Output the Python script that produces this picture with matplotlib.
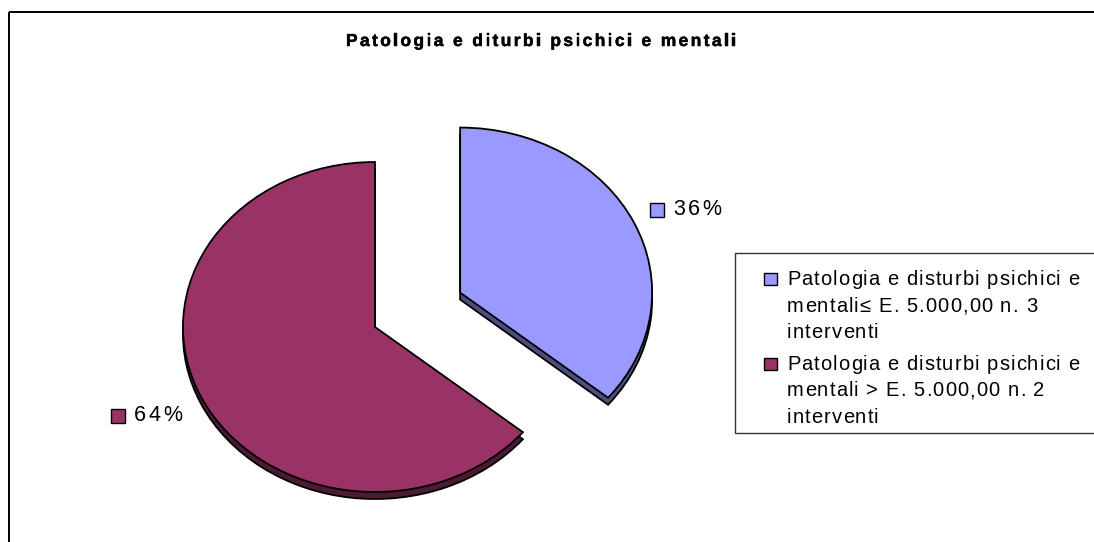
import matplotlib
matplotlib.use("Agg")
import matplotlib.pyplot as plt
import matplotlib.patheffects as pe
from matplotlib.patches import Rectangle
from matplotlib.font_manager import FontProperties, findfont, get_font

title = "Patologia e diturbi psichici e mentali"
labels = [
    "Patologia e disturbi psichici e\nmentali≤ E. 5.000,00 n. 3\ninterventi",
    "Patologia e disturbi psichici e\nmentali > E. 5.000,00 n. 2\ninterventi",
]
shares = [36, 64]
top_colors = ["#9999FF", "#993366"]
side_colors = ["#4D4D80", "#4D1A33"]

W, H, DPI = 1094, 542, 100
FONT = "Liberation Sans"

fig = plt.figure(figsize=(W / DPI, H / DPI), dpi=DPI)
fig.patch.set_facecolor("white")

# pie axes: x in pixels, y stretched so the round pie comes out tilted (ellipse)
K = 192 / 165
R = 192
ax = fig.add_axes([0, 0, 1, 1])
cx, cy = 375, 327
depth = 7
# pie() takes explode in data units, so scale the fraction by the radius
explode = [0.49 * R, 0]
# side of the 3d pie, a darker copy shifted down
ax.pie(shares, explode=explode, colors=side_colors, startangle=90, counterclock=False,
       radius=R, center=(cx, (H - cy - depth) * K),
       wedgeprops=dict(edgecolor="black", linewidth=1.3, zorder=1))
wedges, _ = ax.pie(shares, explode=explode, colors=top_colors, startangle=90,
                   counterclock=False, radius=R, center=(cx, (H - cy) * K),
                   wedgeprops=dict(edgecolor="black", linewidth=1.3, zorder=2))
ax.set_aspect("auto")
ax.set_xlim(0, W)
ax.set_ylim(0, H * K)
ax.axis("off")

# overlay in pixel coords (y down) for the texts
ov = fig.add_axes([0, 0, 1, 1], zorder=3)
ov.set_xlim(0, W)
ov.set_ylim(H, 0)
ov.axis("off")
ov.patch.set_alpha(0)


def spaced(x, y, s, size, gap, weight="normal", ha="left", stroke=0):
    # old excel export has letter spaced text, mimic it char by char
    font = get_font(findfont(FontProperties(family=FONT, weight=weight)))
    font.set_size(size, DPI)
    adv = [font.load_char(ord(ch)).linearHoriAdvance / 65536 for ch in s]
    total = sum(adv) + gap * (len(s) - 1)
    if ha == "center":
        x -= total / 2
    effects = [pe.withStroke(linewidth=stroke, foreground="black")] if stroke else None
    for ch, a in zip(s, adv):
        if ch != " ":
            ov.text(x, y, ch, fontsize=size, fontweight=weight,
                    family=[FONT, "DejaVu Sans"], ha="left", va="baseline",
                    path_effects=effects)
        x += a + gap


# border of the chart area
ov.add_patch(Rectangle((9, 12), 1200, 600, fill=False, edgecolor="black", linewidth=1.4))

spaced(541, 46, title, 12.5, 2.4, weight="bold", ha="center", stroke=0.35)

# percentage labels with colour keys
pct_pos = [(657, 209.5, 673, 215), (117.5, 415.5, 134, 421)]
for v, c, (sx, sy, tx, ty) in zip(shares, top_colors, pct_pos):
    ov.add_patch(Rectangle((sx - 7, sy - 7), 14, 14, facecolor=c, edgecolor="black", linewidth=1))
    spaced(tx, ty, f"{v}%", 15.5, 2.5)

# legend
ov.add_patch(Rectangle((735, 253), 400, 180, fill=False, edgecolor="#333333", linewidth=1))
first_baselines = [285, 370]
for lab, c, bl in zip(labels, top_colors, first_baselines):
    ov.add_patch(Rectangle((764, bl - 12.5), 13, 12.5, facecolor=c, edgecolor="black", linewidth=1))
    for i, line in enumerate(lab.split("\n")):
        spaced(787, bl + i * 26.5, line, 14.5, 1.1)

fig.savefig("out.png", dpi=DPI)
